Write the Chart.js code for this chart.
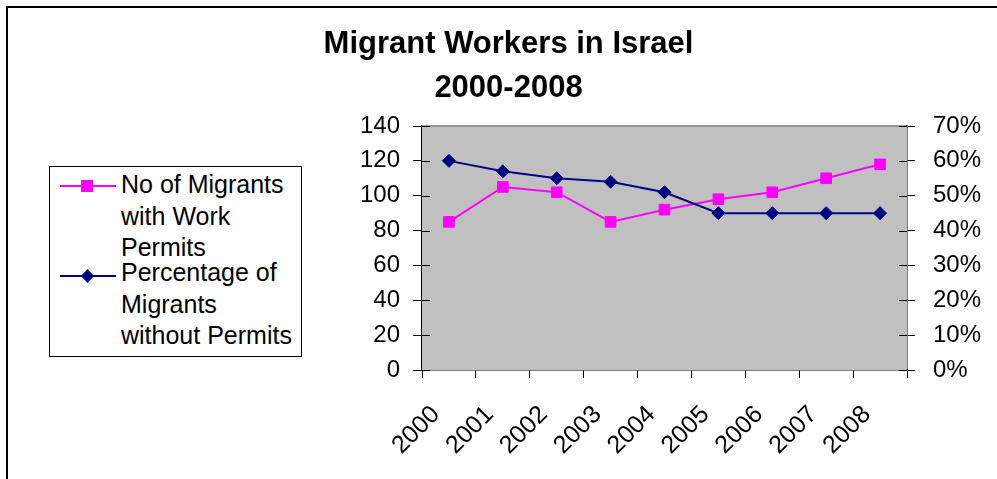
<!DOCTYPE html>
<html>
<head>
<meta charset="utf-8">
<script src="https://cdn.jsdelivr.net/npm/chart.js@4/dist/chart.umd.min.js"></script>
<style>
  body { margin: 0; background: #fff; }
  #wrap { position: relative; width: 997px; height: 479px; overflow: hidden; font-family: "Liberation Sans", Arial, sans-serif; }
  #frame { position: absolute; left: 6px; top: 6px; width: 1200px; height: 700px; border-left: 2px solid #000; border-top: 2px solid #000; }
  #legend { position: absolute; left: 49px; top: 166px; width: 253px; height: 191px; box-sizing: border-box; border: 1px solid #000; background: #fff; }
  .leg_marker { position: absolute; left: 10px; }
  .leg_text { position: absolute; left: 71px; font-size: 25px; line-height: 31.5px; white-space: nowrap; color: #000; }
</style>
</head>
<body>
<div id="wrap">
  <div id="frame"></div>
  <canvas id="myChart"></canvas>
  <div id="legend"></div>
</div>
<script>
// Data
const years = ['2000', '2001', '2002', '2003', '2004', '2005', '2006', '2007', '2008'];
const migrantsWithPermits = [85, 105, 102, 85, 92, 98, 102, 110, 118];
const pctWithoutPermits = [60, 57, 55, 54, 51, 45, 45, 45, 45];
const legendLines = [
    ['No of Migrants', 'with Work', 'Permits'],
    ['Percentage of', 'Migrants', 'without Permits']
];
const titleLines = ['Migrant Workers in Israel', '2000-2008'];
const PINK = '#ff00ff';
const NAVY = '#000080';

// gray plot area + crossing tick marks
const plotFrame = {
    id: 'plotFrame',
    beforeDatasetsDraw(chart) {
        const ctx = chart.ctx;
        const a = chart.chartArea;
        ctx.save();
        ctx.fillStyle = '#c0c0c0';
        ctx.fillRect(a.left, a.top, a.right - a.left, a.bottom - a.top);
        ctx.strokeStyle = '#808080';
        ctx.lineWidth = 1.5;
        ctx.beginPath();
        ctx.moveTo(a.left, a.top);
        ctx.lineTo(a.right, a.top);
        ctx.stroke();
        ctx.strokeStyle = '#000';
        ctx.lineWidth = 1;
        ctx.beginPath();
        chart.scales.y.ticks.forEach((t) => {
            const py = Math.round(chart.scales.y.getPixelForValue(t.value)) + 0.5;
            ctx.moveTo(a.left, py);
            ctx.lineTo(a.left + 8, py);
        });
        chart.scales.y1.ticks.forEach((t) => {
            const py = Math.round(chart.scales.y1.getPixelForValue(t.value)) + 0.5;
            ctx.moveTo(a.right - 8, py);
            ctx.lineTo(a.right, py);
        });
        ctx.stroke();
        ctx.restore();
    }
};

const tickFont = { family: '"Liberation Sans", Arial, sans-serif', size: 24 };

let ctx = document.getElementById('myChart').getContext('2d');
let chart = new Chart(ctx, {
    type: 'line',
    data: {
        labels: years,
        datasets: [
            {
                label: legendLines[0].join(' '),
                data: migrantsWithPermits,
                yAxisID: 'y',
                borderColor: PINK,
                backgroundColor: PINK,
                borderWidth: 2,
                pointStyle: 'rect',
                pointRadius: 7.5,
                pointBorderWidth: 1,
                order: 2
            },
            {
                label: legendLines[1].join(' '),
                data: pctWithoutPermits,
                yAxisID: 'y1',
                borderColor: NAVY,
                backgroundColor: NAVY,
                borderWidth: 2,
                pointStyle: 'rectRot',
                pointRadius: 6.5,
                pointBorderWidth: 1,
                order: 1
            }
        ]
    },
    options: {
        responsive: true,
        maintainAspectRatio: false,
        animation: false,
        layout: { padding: { left: 20 } },
        plugins: {
            legend: { display: false },
            tooltip: { enabled: false },
            title: {
                display: true,
                text: titleLines,
                color: '#000',
                font: { family: '"Liberation Sans", Arial, sans-serif', size: 31, weight: 'bold', lineHeight: 44 / 31 },
                padding: { top: 22, bottom: 16 }
            }
        },
        scales: {
            x: {
                offset: true,
                grid: { offset: true, drawOnChartArea: false, color: '#000', tickLength: 8 },
                border: { color: '#000', width: 1.5 },
                ticks: { color: '#000', font: { family: '"Liberation Sans", Arial, sans-serif', size: 25 }, minRotation: 45, maxRotation: 45, padding: 22, labelOffset: -13 },
                afterFit: (scale) => { scale.height = 109; }
            },
            y: {
                position: 'left',
                min: 0, max: 140,
                ticks: { stepSize: 20, color: '#000', font: tickFont, padding: 13 },
                grid: { drawOnChartArea: false, color: '#000', tickLength: 9 },
                border: { color: '#000', width: 1.5 },
                afterFit: (scale) => { scale.width = 402; }
            },
            y1: {
                position: 'right',
                min: 0, max: 70,
                ticks: { stepSize: 10, color: '#000', font: tickFont, padding: 18, callback: (v) => v + '%' },
                grid: { drawOnChartArea: false, color: '#000', tickLength: 8 },
                border: { color: '#000', width: 1.5 },
                afterFit: (scale) => { scale.width = 90; }
            }
        }
    },
    plugins: [plotFrame]
});

// HTML legend
const legendDOM = document.getElementById('legend');
const markerSvg = [
    `<svg width="56" height="14"><line x1="0" y1="7" x2="56" y2="7" stroke="${PINK}" stroke-width="2"/><rect x="21" y="1" width="12" height="12" fill="${PINK}"/></svg>`,
    `<svg width="56" height="14"><line x1="0" y1="7" x2="56" y2="7" stroke="${NAVY}" stroke-width="2"/><polygon points="27.5,0 34,7 27.5,14 21,7" fill="${NAVY}"/></svg>`
];
const entryTop = [2, 90];
const markerTop = [12, 102];
for (let i = 0; i < legendLines.length; i++) {
    legendDOM.innerHTML += `<div class="leg_marker" style="top:${markerTop[i]}px">${markerSvg[i]}</div>`;
    legendDOM.innerHTML += `<div class="leg_text" style="top:${entryTop[i]}px">${legendLines[i].join('<br>')}</div>`;
}
</script>
</body>
</html>
